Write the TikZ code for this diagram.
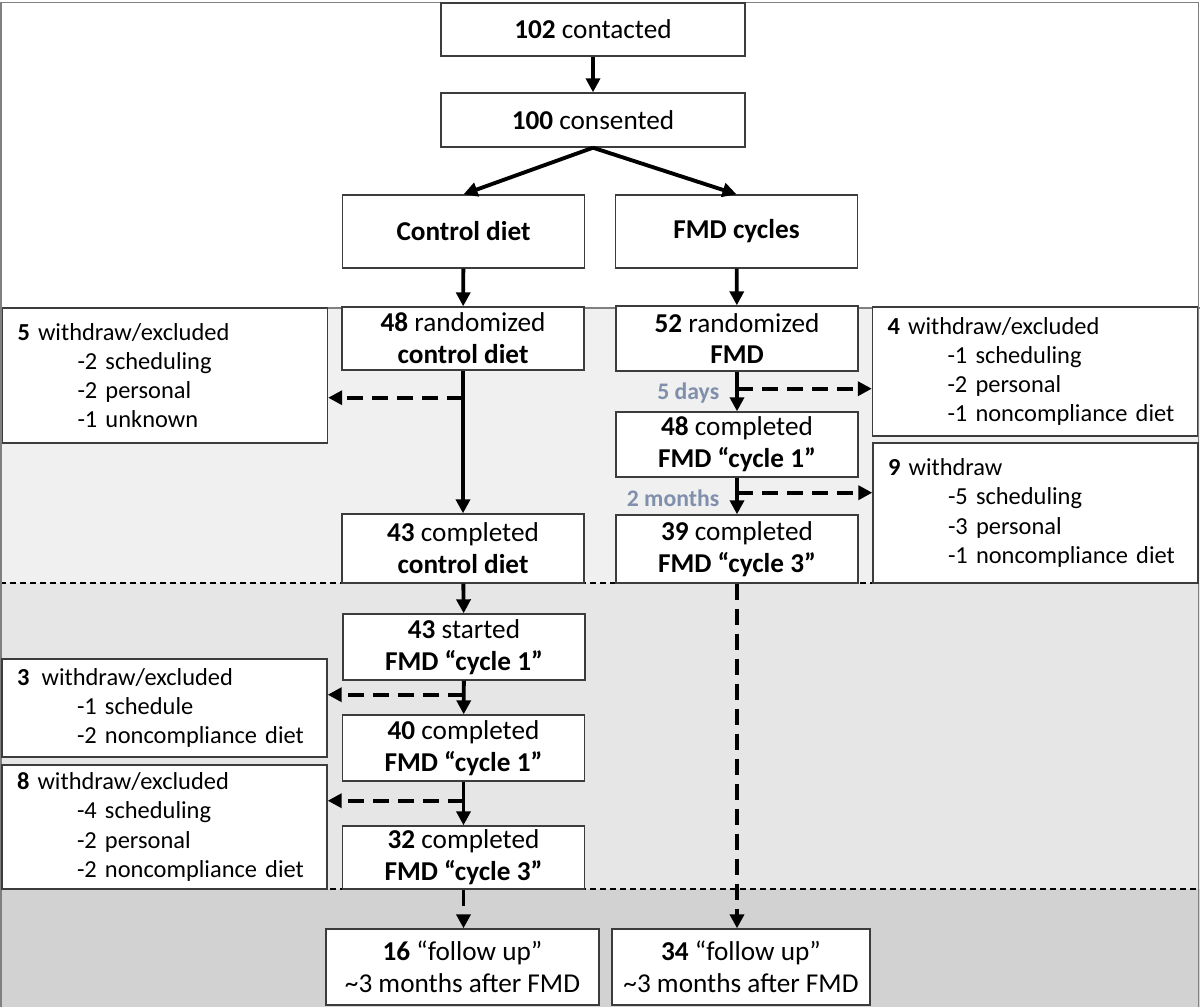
\documentclass[tikz,border=0pt]{standalone}
\usepackage{fontspec}
\setmainfont{Carlito}
\usepackage{xcolor}
\usetikzlibrary{arrows.meta}

\definecolor{boxline}{HTML}{3C3C3C}
\definecolor{bandA}{HTML}{F0F0F0}
\definecolor{bandB}{HTML}{E6E6E6}
\definecolor{bandC}{HTML}{D2D2D2}
\definecolor{daynote}{HTML}{8090AC}

\begin{document}
\begin{tikzpicture}[
  stage/.style={draw=boxline, line width=0.8pt, fill=white, align=center, minimum width=4.84cm, inner sep=1pt, font=\fontsize{15.5}{18.1}\selectfont},
  dropout/.style={draw=boxline, line width=0.8pt, fill=white, align=left, text width=5.9cm, inner xsep=0.3cm, font=\fontsize{13.9}{16.6}\selectfont},
  flow/.style={-{Triangle[length=2.8mm, width=2.8mm]}, line width=2.2pt},
  loss/.style={flow, dash pattern=on 3.2mm off 1.8mm},
  gap/.style={font=\bfseries\fontsize{13.5}{16}\selectfont, text=daynote},
  divider/.style={line width=0.6pt, dash pattern=on 1.2mm off 0.8mm}
]
\useasboundingbox (0,0) rectangle (24,-20.14);

\fill[bandA] (0,-6.16) rectangle (24,-11.66);
\fill[bandB] (0,-11.66) rectangle (24,-17.78);
\fill[bandC] (0,-17.78) rectangle (24,-20.14);
\draw[gray, line width=0.6pt] (0,-6.16) -- (24,-6.16);
\draw[divider] (0,-11.66) -- (24,-11.66);
\draw[divider] (0,-17.78) -- (24,-17.78);
\draw[gray, line width=0.8pt] (0.02,-20.14) -- (0.02,-0.05) -- (23.97,-0.05) -- (23.97,-20.14);

\node[stage, minimum width=6.08cm, minimum height=1.06cm] (contacted) at (11.86,-0.59) {\textbf{102} contacted};
\node[stage, minimum width=6.08cm, minimum height=1.08cm] (consented) at (11.86,-2.40) {\textbf{100} consented};
\node[stage, minimum height=1.46cm] (control) at (9.27,-4.63) {\textbf{Control diet}};
\node[stage, minimum height=1.46cm] (fmd) at (14.73,-4.63) {\textbf{FMD cycles}};

\node[stage, minimum height=1.26cm] (rand48) at (9.26,-6.77) {\textbf{48} randomized\\\textbf{control diet}};
\node[stage, minimum height=1.30cm] (rand52) at (14.74,-6.77) {\textbf{52} randomized\\\textbf{FMD}};
\node[stage, minimum height=1.30cm] (comp48) at (14.74,-8.89) {\textbf{48} completed\\\textbf{FMD “cycle 1”}};
\node[stage, minimum height=1.36cm] (comp39) at (14.74,-10.98) {\textbf{39} completed\\\textbf{FMD “cycle 3”}};
\node[stage, minimum height=1.38cm] (comp43) at (9.26,-10.97) {\textbf{43} completed\\\textbf{control diet}};
\node[stage, minimum height=1.32cm] (start43) at (9.28,-12.94) {\textbf{43} started\\\textbf{FMD “cycle 1”}};
\node[stage, minimum height=1.32cm] (comp40) at (9.27,-14.96) {\textbf{40} completed\\\textbf{FMD “cycle 1”}};
\node[stage, minimum height=1.26cm] (comp32) at (9.27,-17.15) {\textbf{32} completed\\\textbf{FMD “cycle 3”}};
\node[stage, minimum width=5.46cm, minimum height=1.52cm] (fu16) at (9.25,-19.34) {\textbf{16} “follow up”\\\textasciitilde3 months after FMD};
\node[stage, minimum width=5.16cm, minimum height=1.52cm] (fu34) at (14.82,-19.34) {\textbf{34} “follow up”\\\textasciitilde3 months after FMD};

\node[dropout, minimum height=2.70cm] (wd5) at (3.30,-7.51) {\textbf{5} withdraw/excluded\\\hspace*{1.2cm}-2 scheduling\\\hspace*{1.2cm}-2 personal\\\hspace*{1.2cm}-1 unknown};
\node[dropout, minimum height=2.58cm] (wd4) at (20.70,-7.43) {\textbf{4} withdraw/excluded\\\hspace*{1.2cm}-1 scheduling\\\hspace*{1.2cm}-2 personal\\\hspace*{1.2cm}-1 noncompliance diet};
\node[dropout, minimum height=2.80cm] (wd9) at (20.71,-10.26) {\textbf{9} withdraw\\\hspace*{1.2cm}-5 scheduling\\\hspace*{1.2cm}-3 personal\\\hspace*{1.2cm}-1 noncompliance diet};
\node[dropout, minimum height=1.96cm] (wd3) at (3.29,-14.16) {\textbf{3}\, withdraw/excluded\\\hspace*{1.2cm}-1 schedule\\\hspace*{1.2cm}-2 noncompliance diet};
\node[dropout, minimum height=2.48cm] (wd8) at (3.29,-16.54) {\textbf{8} withdraw/excluded\\\hspace*{1.2cm}-4 scheduling\\\hspace*{1.2cm}-2 personal\\\hspace*{1.2cm}-2 noncompliance diet};

\coordinate (b5) at ([yshift=-0.54cm]rand48.south);
\coordinate (b4) at ([yshift=-0.34cm]rand52.south);
\coordinate (b9) at ([yshift=-0.30cm]comp48.south);
\coordinate (b3) at ([yshift=-0.28cm]start43.south);
\coordinate (b8) at ([yshift=-0.38cm]comp40.south);

\draw[flow] (contacted) -- (consented);
\draw[flow] (consented.south) -- (control.north);
\draw[flow] (consented.south) -- (fmd.north);
\draw[flow] (control) -- (rand48);
\draw[flow] (fmd) -- (rand52);
\draw[flow] (rand48) -- (comp43);
\draw[flow] (rand52) -- node[gap, left=2mm, pos=.55] {5 days} (comp48);
\draw[flow] (comp48) -- node[gap, left=2mm, pos=.55] {2 months} (comp39);
\draw[flow] (comp43) -- (start43);
\draw[flow] (start43) -- (comp40);
\draw[flow] (comp40) -- (comp32);
\draw[loss] (comp32.south) -- (comp32.south |- fu16.north);
\draw[loss] (comp39.south) -- (comp39.south |- fu34.north);

\draw[loss] (b5) -- (b5 -| wd5.east);
\draw[loss] (b4) -- (b4 -| wd4.west);
\draw[loss] (b9) -- (b9 -| wd9.west);
\draw[loss] (b3) -- (b3 -| wd3.east);
\draw[loss] (b8) -- (b8 -| wd8.east);
\end{tikzpicture}
\end{document}
